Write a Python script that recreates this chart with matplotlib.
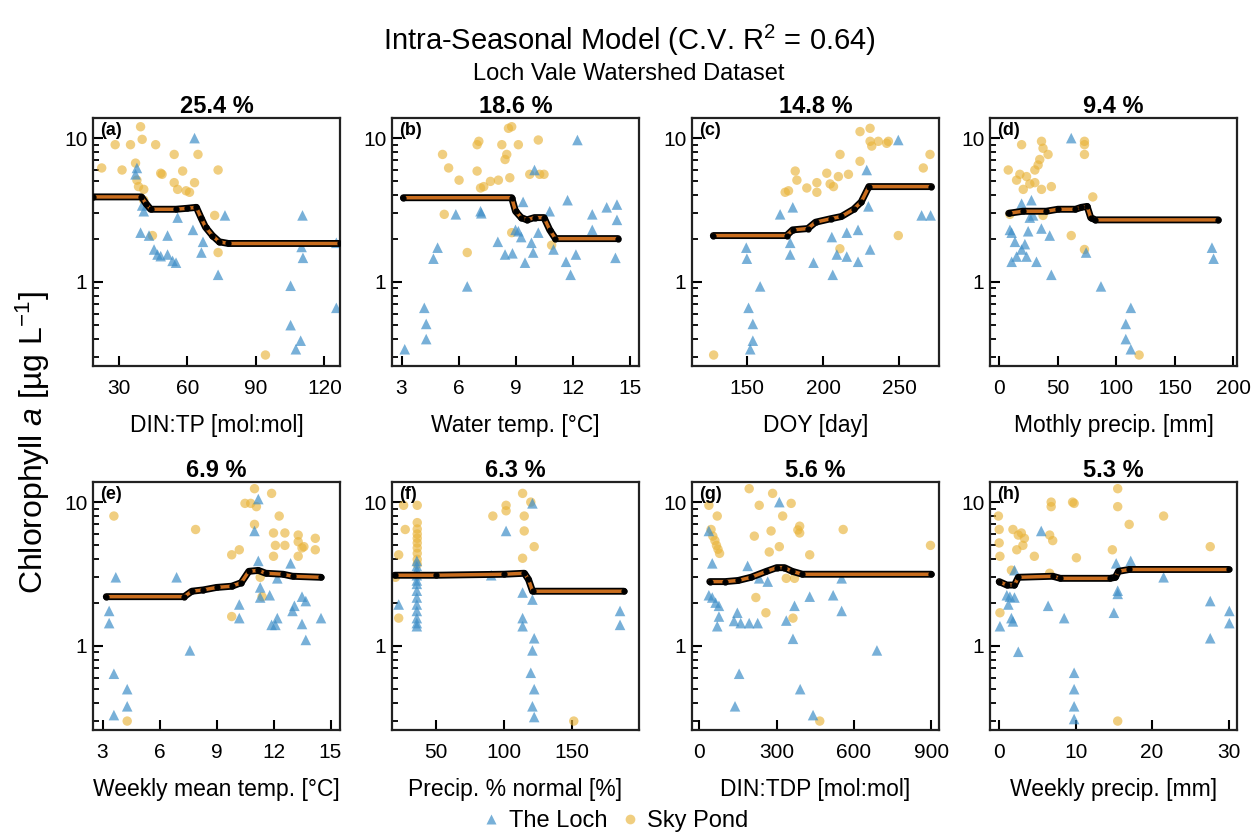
import matplotlib
matplotlib.use('Agg')
import matplotlib.pyplot as plt
from matplotlib.lines import Line2D

plt.rcParams['font.family'] = ['Liberation Sans', 'DejaVu Sans']
plt.rcParams['mathtext.fontset'] = 'custom'
plt.rcParams['mathtext.rm'] = 'Liberation Sans'
plt.rcParams['mathtext.it'] = 'Liberation Sans:italic'
plt.rcParams['mathtext.bf'] = 'Liberation Sans:bold'

# ---- panel (a) DIN:TP ----
a_loch_x = [63.2, 38, 37.4, 40.3, 41, 39.6, 43.3, 51.4, 62.5, 55.8, 45.5, 47, 48.4, 51.4, 53.6,
            55.1, 66.2, 66.9, 76.5, 73.5, 105.2, 110.4, 110, 110.6, 105.2, 109.6, 107.5, 125.2, 125.2]
a_loch_y = [10, 6.2, 5.6, 3.4, 3.1, 2.2, 2.1, 2.1, 2.3, 2.8, 1.68, 1.55, 1.51, 1.55, 1.4,
            1.36, 1.6, 1.9, 2.9, 1.12, 0.94, 2.9, 1.75, 1.47, 0.5, 0.39, 0.34, 0.66, 1.87]
a_sky_x = [39.6, 40.3, 28.5, 35.2, 46.2, 54.3, 64.7, 22.6, 31.5, 37.4, 38, 48.4, 49, 58, 73.5,
           54.3, 55.8, 59.5, 61, 63.2, 38.7, 41, 73.5, 94.2, 72, 41, 44.8]
a_sky_y = [12, 9.8, 9, 9, 9, 7.7, 7.7, 6.2, 6.0, 6.7, 5.1, 5.7, 5.6, 5.9, 6.0,
           4.9, 4.4, 4.3, 4.2, 4.9, 4.6, 4.4, 1.6, 0.31, 2.9, 3.7, 2.1]
a_fit_x = [19, 40, 42, 44, 55, 60, 64, 66, 68, 71, 74, 78, 127]
a_fit_y = [3.9, 3.9, 3.5, 3.2, 3.2, 3.25, 3.3, 2.8, 2.4, 2.1, 1.9, 1.85, 1.85]

# ---- panel (b) water temperature ----
b_loch_x = [3.17, 4.2, 4.3, 4.3, 4.9, 4.68, 5.86, 6.46, 7.16, 7.2, 8.07, 8.45, 8.84, 9.0, 9.15,
            9.3, 9.4, 9.5, 9.84, 9.93, 10.0, 10.2, 10.8, 11.0, 11.66, 11.74, 11.9, 12.18, 12.26,
            13.04, 13.04, 13.8, 14.34, 14.34, 14.26]
b_loch_y = [0.34, 0.66, 0.51, 0.40, 1.73, 1.45, 2.95, 0.93, 3.1, 3.0, 1.9, 1.55, 1.58, 2.3, 2.25,
            2.05, 3.6, 1.36, 1.87, 1.6, 6.0, 2.2, 3.1, 1.68, 1.38, 3.7, 1.12, 1.55, 9.7,
            2.95, 2.3, 3.3, 3.45, 2.7, 1.47]
b_sky_x = [5.16, 5.48, 6.03, 6.98, 7.07, 6.98, 7.16, 7.33, 7.68, 8.1, 8.28, 8.45, 8.54, 8.63, 8.8,
           9.15, 8.7, 10.2, 9.75, 10.27, 10.5, 5.25, 6.46, 8.8, 10.9]
b_sky_y = [7.7, 6.2, 5.1, 9.0, 9.5, 5.9, 4.5, 4.6, 5.0, 5.1, 9.0, 7.1, 7.7, 11.7, 12,
           9.0, 5.3, 9.7, 5.6, 5.6, 5.6, 2.95, 1.6, 2.2, 1.8]
b_fit_x = [3.1, 8.8, 9.0, 9.3, 9.6, 10.0, 10.5, 10.8, 11.1, 14.4]
b_fit_y = [3.85, 3.85, 3.1, 2.8, 2.7, 2.8, 2.8, 2.3, 2.0, 2.0]

# ---- panel (c) day of year ----
c_loch_x = [149.6, 150, 158.7, 151.1, 153.9, 153.9, 152.2, 171.8, 180.1, 178.4, 178.4, 193.7,
            205.7, 206.3, 209, 215.5, 215.5, 222.9, 222.9, 230.8, 229.7, 228.6, 249.3, 264.6, 270.5]
c_loch_y = [1.73, 1.45, 0.93, 0.66, 0.51, 0.39, 0.34, 2.95, 3.3, 1.87, 1.55, 1.36,
            2.05, 1.12, 1.55, 2.2, 1.5, 2.3, 1.38, 1.68, 3.35, 6.0, 9.7, 2.9, 2.9]
c_sky_x = [128.2, 175.1, 177.3, 181.7, 182.8, 189.3, 195.9, 195.9, 202.4, 204.6, 206.8, 211.1,
           210, 216.6, 211, 224.2, 224.2, 230.8, 230.8, 231.9, 236.2, 241.7, 242.8, 265.7, 270.1, 249.3]
c_sky_y = [0.31, 4.2, 4.3, 5.9, 5.1, 4.5, 4.2, 4.9, 5.7, 4.8, 4.6, 7.7,
           5.4, 5.6, 1.7, 6.9, 11.1, 11.7, 9.5, 8.8, 9.5, 9.2, 9.5, 6.2, 7.7, 2.1]
c_fit_x = [128, 176, 180, 190, 195, 205, 212, 220, 225, 230, 271]
c_fit_y = [2.1, 2.1, 2.3, 2.35, 2.6, 2.75, 2.85, 3.2, 3.6, 4.6, 4.6]

# ---- panel (d) monthly precipitation ----
d_loch_x = [61.4, 9, 10.5, 13.3, 10.5, 14.7, 19, 21.8, 23.2, 19, 27.4, 24.6, 26, 31.7, 35.9,
            43, 44.4, 74.1, 86.8, 112.3, 108, 108, 112.3, 181.6, 183, 28.8]
d_loch_y = [10, 2.3, 2.2, 1.9, 1.38, 1.5, 1.68, 1.83, 1.5, 3.5, 3.7, 2.25, 2.8, 1.38, 2.35,
            2.1, 1.12, 1.6, 0.93, 0.66, 0.51, 0.4, 0.34, 1.73, 1.45, 2.9]
d_sky_x = [19, 36, 37.3, 41.6, 72.7, 72.7, 72.7, 7.6, 14.7, 17.5, 20.4, 23.2, 26, 30.3, 30.3,
           33.1, 34.5, 36, 44.4, 79.8, 37.3, 61.4, 72.7, 119.4, 9]
d_sky_y = [9.0, 9.5, 8.5, 7.7, 9.5, 7.7, 9.0, 6.0, 5.1, 5.6, 4.4, 5.4, 4.8, 6.0, 4.9,
           6.5, 7.1, 4.4, 4.6, 3.9, 2.9, 2.1, 1.68, 0.31, 2.95]
d_fit_x = [8, 20, 40, 50, 65, 70, 75, 78, 82, 187]
d_fit_y = [3.0, 3.1, 3.1, 3.2, 3.2, 3.3, 3.35, 2.8, 2.7, 2.7]

# ---- panel (e) weekly mean air temperature ----
e_loch_x = [3.7, 3.35, 3.35, 3.6, 3.6, 4.3, 4.3, 6.9, 7.6, 10.2, 10.2, 11.2, 11.0, 11.2, 11.3,
            11.3, 11.8, 11.9, 12.1, 12.2, 12.2, 12.9, 13.0, 13.1, 13.5, 13.5, 13.7, 13.7, 14.5]
e_loch_y = [3.0, 1.75, 1.44, 0.64, 0.33, 0.5, 0.38, 3.0, 0.93, 1.94, 1.56, 10.5, 6.3, 3.9, 2.55,
            2.17, 2.25, 1.4, 1.4, 2.95, 1.56, 3.75, 1.75, 1.9, 2.2, 1.42, 2.05, 1.1, 1.56]
e_sky_x = [3.6, 7.9, 4.3, 9.8, 10.2, 10.5, 10.8, 11.0, 11.1, 11.0, 11.9, 12.0, 12.1, 12.0, 12.3,
           12.6, 12.6, 13.3, 13.3, 13.5, 13.6, 13.3, 14.2, 14.2, 9.8, 11.3, 11.4]
e_sky_y = [8.0, 6.45, 0.3, 4.3, 4.66, 9.8, 9.8, 12.4, 9.3, 7.0, 11.5, 6.1, 5.0, 4.2, 8.0,
           6.1, 5.0, 5.9, 5.3, 4.8, 4.9, 4.2, 5.6, 4.66, 1.6, 3.0, 2.2]
e_fit_x = [3.2, 7.3, 7.7, 8.3, 9.0, 9.8, 10.3, 10.7, 11.2, 11.6, 12.5, 13.0, 14.5]
e_fit_y = [2.2, 2.2, 2.4, 2.45, 2.55, 2.6, 2.75, 3.3, 3.35, 3.2, 3.15, 3.05, 3.0]

# ---- panel (f) precipitation % of normal ----
f_loch_x = [22.9, 36.2, 36.2, 36.2, 36.2, 36.2, 36.2, 36.2, 36.2, 36.2, 36.2, 36.2, 36.2, 36.2,
            90.7, 101.6, 113.7, 113.7, 113.7, 120.9, 120.9, 122.2, 120.9, 119.7, 122.2, 120.9,
            122.2, 185.1, 185.1]
f_loch_y = [1.94, 3.9, 3.6, 3.36, 3.1, 2.85, 2.7, 2.42, 2.17, 1.94, 1.75, 1.56, 1.44, 1.37,
            3.1, 6.3, 2.35, 1.56, 1.37, 9.8, 2.1, 1.13, 0.93, 0.65, 0.5, 0.38,
            0.32, 1.75, 1.4]
f_sky_x = [26.5, 27.7, 22.9, 22.9, 36.5, 36.5, 36.5, 36.5, 36.5, 36.5, 36.5, 36.5, 36.5, 36.5,
           91.9, 101.6, 101.6, 113.7, 114.9, 114.9, 113.7, 119.7, 122.2, 151.2, 20.5]
f_sky_y = [9.5, 6.45, 4.3, 1.56, 9.5, 7.2, 6.5, 6.0, 5.6, 5.2, 4.8, 4.4, 4.0, 3.7,
           8.0, 9.5, 8.7, 11.5, 8.0, 6.3, 4.07, 10, 4.9, 0.3, 3.0]
f_fit_x = [20, 50, 100, 115, 118, 121, 188]
f_fit_y = [3.1, 3.1, 3.15, 3.2, 2.9, 2.4, 2.4]

# ---- panel (g) DIN:TDP ----
g_loch_x = [36.5, 49.6, 36.5, 49.6, 62.6, 75.6, 75.6, 69, 147, 134, 160, 193, 226, 187, 232,
            265, 310, 337, 369, 363, 428, 519, 552, 552, 689, 154, 138, 391, 441]
g_loch_y = [6.3, 3.75, 2.25, 2.17, 2.0, 1.9, 1.6, 1.37, 1.7, 1.49, 1.44, 1.44, 1.44, 3.6, 2.95,
            2.8, 10.0, 1.5, 1.9, 1.12, 2.2, 2.25, 2.95, 1.75, 0.93, 0.64, 0.38, 0.5, 0.33]
g_sky_x = [36.5, 69, 45, 52, 60, 66, 72, 78, 193, 232, 213, 284, 323, 356, 278, 310, 271,
           389, 389, 382, 428, 558, 897, 219, 258, 337, 369, 467, 363]
g_sky_y = [9.5, 8.0, 6.45, 5.8, 5.4, 5.0, 4.7, 4.4, 12.4, 9.5, 5.8, 11.5, 8.0, 9.8, 6.3, 4.9, 4.5,
           6.8, 6.1, 6.4, 4.3, 6.45, 5.0, 2.17, 1.7, 2.95, 2.95, 0.3, 1.56]
g_fit_x = [40, 100, 150, 200, 260, 300, 330, 360, 400, 900]
g_fit_y = [2.8, 2.8, 2.85, 3.0, 3.3, 3.5, 3.5, 3.3, 3.15, 3.15]

# ---- panel (h) weekly precipitation ----
h_loch_x = [0.1, 1.0, 1.4, 1.2, 1.6, 1.8, 2.0, 2.5, 2.0, 5.5, 6.4, 8.5, 9.8, 9.8, 9.8, 9.8,
            15.5, 15.5, 15.0, 15.3, 17.2, 21.5, 27.6, 27.6, 30.1, 30.1]
h_loch_y = [1.37, 2.25, 2.2, 1.94, 1.56, 1.48, 2.17, 0.91, 3.36, 6.3, 1.9, 1.56, 0.65, 0.5, 0.38, 0.31,
            2.42, 2.3, 1.7, 3.75, 3.9, 3.0, 2.05, 1.13, 1.75, 1.44]
h_sky_x = [-0.1, 0, 0, 0.1, 1.8, 2.5, 2.9, 3.3, 3.1, 2.3, 4.6, 6.8, 6.8, 6.6, 7.0, 9.6, 9.8,
           10.1, 15.5, 15.5, 14.8, 17.0, 21.5, 27.6, 15.5, 0.1, 1.6, 6.6]
h_sky_y = [8.0, 6.45, 5.2, 4.2, 6.45, 5.9, 6.1, 5.6, 5.0, 4.66, 4.2, 10, 9.3, 5.9, 5.4, 10, 9.8,
           4.1, 12.4, 9.3, 4.66, 7.0, 8.0, 4.9, 0.3, 1.7, 3.36, 3.2]
h_fit_x = [0, 1.0, 2.0, 2.5, 7.0, 8.0, 14.5, 15.2, 15.6, 17, 30]
h_fit_y = [2.8, 2.65, 2.65, 3.0, 3.05, 2.95, 2.95, 3.0, 3.3, 3.4, 3.4]

panel_tags = ['(a)', '(b)', '(c)', '(d)', '(e)', '(f)', '(g)', '(h)']
importance = ['25.4 %', '18.6 %', '14.8 %', '9.4 %', '6.9 %', '6.3 %', '5.6 %', '5.3 %']
x_labels = ['DIN:TP [mol:mol]', 'Water temp. [°C]', 'DOY [day]', 'Mothly precip. [mm]',
            'Weekly mean temp. [°C]', 'Precip. % normal [%]', 'DIN:TDP [mol:mol]',
            'Weekly precip. [mm]']
x_ticks = [[30, 60, 90, 120], [3, 6, 9, 12, 15], [150, 200, 250], [0, 50, 100, 150, 200],
           [3, 6, 9, 12, 15], [50, 100, 150], [0, 300, 600, 900], [0, 10, 20, 30]]
x_limits = [(18.8, 126.8), (2.5, 15.5), (114, 276), (-8, 203),
            (2.5, 15.5), (18, 199), (-29, 930), (-1.2, 31.1)]

loch_data = [(a_loch_x, a_loch_y), (b_loch_x, b_loch_y), (c_loch_x, c_loch_y), (d_loch_x, d_loch_y),
             (e_loch_x, e_loch_y), (f_loch_x, f_loch_y), (g_loch_x, g_loch_y), (h_loch_x, h_loch_y)]
sky_data = [(a_sky_x, a_sky_y), (b_sky_x, b_sky_y), (c_sky_x, c_sky_y), (d_sky_x, d_sky_y),
            (e_sky_x, e_sky_y), (f_sky_x, f_sky_y), (g_sky_x, g_sky_y), (h_sky_x, h_sky_y)]
fit_data = [(a_fit_x, a_fit_y), (b_fit_x, b_fit_y), (c_fit_x, c_fit_y), (d_fit_x, d_fit_y),
            (e_fit_x, e_fit_y), (f_fit_x, f_fit_y), (g_fit_x, g_fit_y), (h_fit_x, h_fit_y)]

loch_color = '#3f8fc8'
sky_color = '#e9b43c'
fit_color = '#e07a22'

fig = plt.figure(figsize=(12.58, 8.36), dpi=100)

col_left = [93, 392, 692, 990]
row_top = [118, 482]
panel_w, panel_h = 247, 248
W, H = 1258.0, 836.0

for i in range(8):
    r, c = divmod(i, 4)
    ax = fig.add_axes([col_left[c] / W, 1 - (row_top[r] + panel_h) / H, panel_w / W, panel_h / H])

    sx, sy = sky_data[i]
    lx, ly = loch_data[i]
    ax.scatter(sx, sy, s=46, marker='o', color=sky_color, alpha=0.65, edgecolors='none', zorder=2)
    ax.scatter(lx, ly, s=58, marker='^', color=loch_color, alpha=0.7, edgecolors='none', zorder=2)

    # fitted partial-dependence curve: black core, orange overlay, black nodes
    fx, fy = fit_data[i]
    ax.plot(fx, fy, color='black', lw=5, solid_capstyle='round', zorder=3)
    ax.plot(fx, fy, color=fit_color, lw=2.5, alpha=0.9, zorder=4)
    ax.plot(fx, fy, 'o', color='black', ms=3.5, zorder=5)

    ax.set_yscale('log')
    ax.set_ylim(0.26, 13.8)
    ax.set_xlim(*x_limits[i])
    ax.set_yticks([1, 10])
    ax.set_yticklabels(['1', '10'])
    ax.set_yticks([0.3, 0.4, 0.5, 0.6, 0.7, 0.8, 0.9, 2, 3, 4, 5, 6, 7, 8, 9], minor=True)
    ax.set_yticklabels([], minor=True)
    ax.set_xticks(x_ticks[i])

    ax.tick_params(axis='both', which='major', direction='in', length=7, width=1.5,
                   labelsize=15, top=False, right=False, pad=9)
    ax.tick_params(axis='y', which='minor', direction='in', length=4, width=1.3, right=False)
    ax.tick_params(axis='y', which='major', pad=4)
    for sp in ax.spines.values():
        sp.set_linewidth(1.6)
        sp.set_color('#222222')

    ax.set_xlabel(x_labels[i], fontsize=16.5, labelpad=12)
    ax.set_title(importance[i], fontsize=17, fontweight='bold', pad=2)
    ax.text(0.03, 0.985, panel_tags[i], transform=ax.transAxes, ha='left', va='top',
            fontsize=13, fontweight='bold')

fig.text(0.5, 0.952, 'Intra-Seasonal Model (C.V. R$^2$ = 0.64)', ha='center', va='center',
         fontsize=21)
fig.text(0.5, 0.912, 'Loch Vale Watershed Dataset', ha='center', va='center', fontsize=17)
fig.text(0.026, 0.47, 'Chlorophyll $\\it{a}$ [µg L$^{-1}$]', rotation=90,
         ha='center', va='center', fontsize=23)

handles = [Line2D([], [], marker='^', ls='none', color=loch_color, alpha=0.7, ms=7, mec='none'),
           Line2D([], [], marker='o', ls='none', color=sky_color, alpha=0.65, ms=7, mec='none')]
fig.legend(handles, ['The Loch', 'Sky Pond'], loc='center', bbox_to_anchor=(0.488, 0.018),
           ncol=2, frameon=False, fontsize=17, handletextpad=0.25, columnspacing=0.45,
           handlelength=1.0, borderpad=0.1)

fig.savefig('out.png', dpi=100)
